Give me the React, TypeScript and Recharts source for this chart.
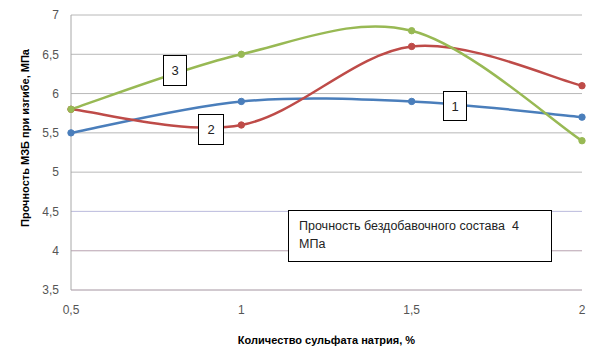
import React from 'react';
import { LineChart, Line, XAxis, YAxis, CartesianGrid, ReferenceLine } from 'recharts';

const sodiumSulfate = [0.5, 1, 1.5, 2];
const series1 = [5.5, 5.9, 5.9, 5.7];
const series2 = [5.8, 5.6, 6.6, 6.1];
const series3 = [5.8, 6.5, 6.8, 5.4];
const yTicks = [3.5, 4, 4.5, 5, 5.5, 6, 6.5, 7];
const tintedGrid = [
  { y: 4.5, color: '#c4c4e4' },
  { y: 4, color: '#cdb8c6' },
  { y: 3.5, color: '#c8b8c4' },
];

const data = sodiumSulfate.map((x, i) => ({
  x,
  s1: series1[i],
  s2: series2[i],
  s3: series3[i],
}));

// Excel-style smoothed line (Catmull-Rom through the points)
const excelSmooth = (context: any) => {
  let pts: number[][] = [];
  return {
    areaStart() {},
    areaEnd() {},
    lineStart() {
      pts = [];
    },
    point(x: number, y: number) {
      pts.push([+x, +y]);
    },
    lineEnd() {
      const n = pts.length;
      if (!n) return;
      context.moveTo(pts[0][0], pts[0][1]);
      for (let i = 0; i < n - 1; i++) {
        const p0 = pts[Math.max(i - 1, 0)];
        const p1 = pts[i];
        const p2 = pts[i + 1];
        const p3 = pts[Math.min(i + 2, n - 1)];
        context.bezierCurveTo(
          p1[0] + (p2[0] - p0[0]) / 6,
          p1[1] + (p2[1] - p0[1]) / 6,
          p2[0] - (p3[0] - p1[0]) / 6,
          p2[1] - (p3[1] - p1[1]) / 6,
          p2[0],
          p2[1]
        );
      }
    },
  };
};

const fmt = (v: number) => String(v).replace('.', ',');
const font = '"Liberation Sans", Arial, sans-serif';

const boxStyle: React.CSSProperties = {
  position: 'absolute',
  background: '#fff',
  border: '1px solid #000',
  fontFamily: font,
  fontSize: 13,
  color: '#222',
  display: 'flex',
  alignItems: 'center',
  justifyContent: 'center',
  boxSizing: 'border-box',
};

const colors = { s1: '#4a7ebb', s2: '#be4b48', s3: '#98b954' };

export default function App() {
  return (
    <div style={{ position: 'absolute', left: 0, top: 0, width: 600, height: 362, background: '#fff' }}>
      <LineChart width={600} height={362} data={data} margin={{ top: 15, right: 18, bottom: 0, left: 0 }}>
        <CartesianGrid vertical={false} stroke="#b8b8b8" />
        {tintedGrid.map((g) => (
          <ReferenceLine key={g.y} y={g.y} stroke={g.color} />
        ))}
        <XAxis
          dataKey="x"
          type="number"
          domain={[0.5, 2]}
          ticks={sodiumSulfate}
          tickFormatter={fmt}
          tickLine={false}
          tickSize={0}
          tickMargin={15}
          axisLine={false}
          height={72}
          tick={{ fill: '#555', fontSize: 12, fontFamily: font }}
          label={{
            value: 'Количество сульфата натрия, %',
            position: 'insideBottom',
            offset: 18,
            style: { fontWeight: 'bold', fontSize: 11, fill: '#000', fontFamily: font },
          }}
        />
        <YAxis
          type="number"
          domain={[3.5, 7]}
          ticks={yTicks}
          tickFormatter={fmt}
          tickLine={false}
          tickSize={0}
          tickMargin={12}
          axisLine={{ stroke: '#a8a8a8' }}
          width={71}
          tick={{ fill: '#555', fontSize: 12, fontFamily: font }}
        />
        <Line type={excelSmooth as any} dataKey="s1" stroke={colors.s1} strokeWidth={2.5} dot={{ r: 3.2, fill: colors.s1, stroke: colors.s1, strokeWidth: 1 }} isAnimationActive={false} />
        <Line type={excelSmooth as any} dataKey="s2" stroke={colors.s2} strokeWidth={2.5} dot={{ r: 3.2, fill: colors.s2, stroke: colors.s2, strokeWidth: 1 }} isAnimationActive={false} />
        <Line type={excelSmooth as any} dataKey="s3" stroke={colors.s3} strokeWidth={2.5} dot={{ r: 3.2, fill: colors.s3, stroke: colors.s3, strokeWidth: 1 }} isAnimationActive={false} />
      </LineChart>
      <div
        style={{
          position: 'absolute',
          left: 25,
          top: 138,
          transform: 'translate(-50%, -50%) rotate(-90deg)',
          whiteSpace: 'nowrap',
          fontFamily: font,
          fontWeight: 'bold',
          fontSize: 11,
          color: '#000',
        }}
      >
        Прочность МЗБ при изгибе, МПа
      </div>
      <div style={{ ...boxStyle, left: 163, top: 55, width: 24, height: 31 }}>3</div>
      <div style={{ ...boxStyle, left: 198, top: 114, width: 26, height: 31 }}>2</div>
      <div style={{ ...boxStyle, left: 443, top: 91, width: 24, height: 30 }}>1</div>
      <div
        style={{
          ...boxStyle,
          left: 288,
          top: 210,
          width: 264,
          height: 52,
          display: 'block',
          padding: '6px 0 0 10px',
          fontSize: 12.5,
          lineHeight: '18px',
        }}
      >
        Прочность бездобавочного состава&nbsp;&nbsp;4
        <br />
        МПа
      </div>
    </div>
  );
}
